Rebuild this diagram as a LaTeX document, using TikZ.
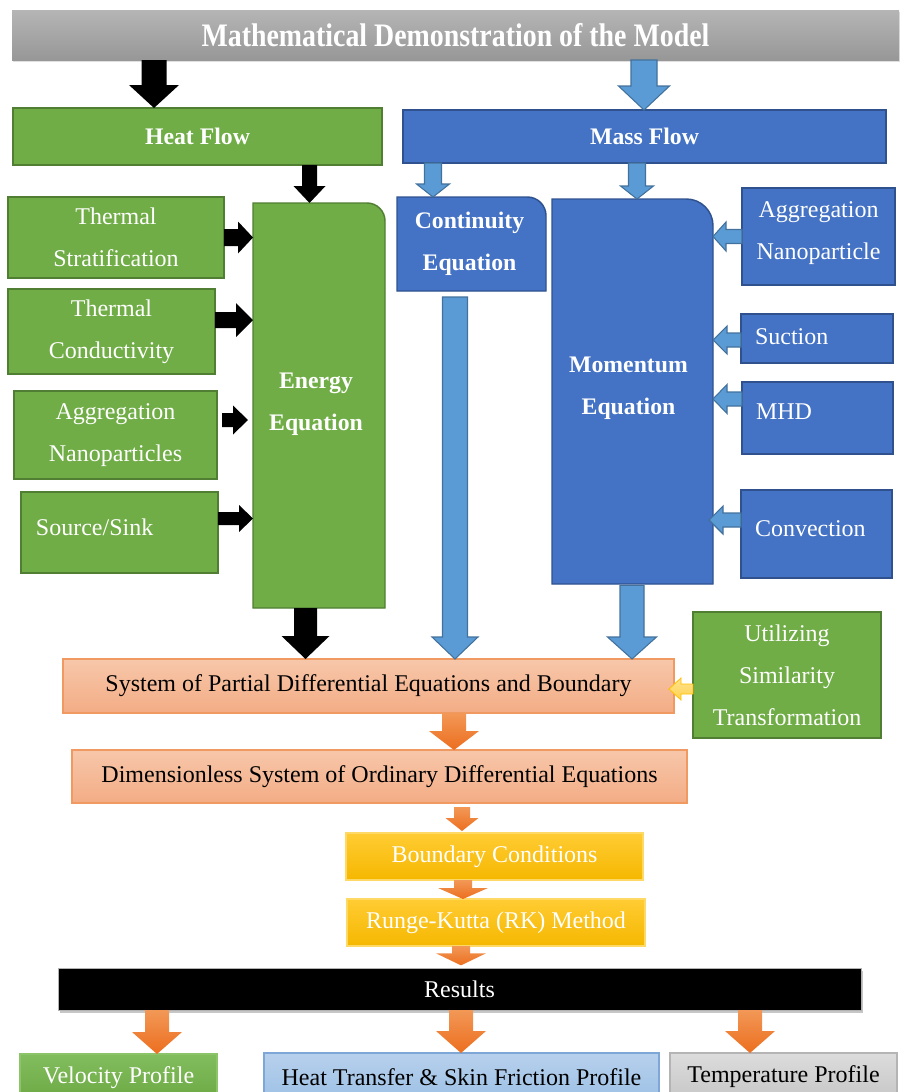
\documentclass[tikz,border=0pt]{standalone}
\usepackage{fontspec}
\setmainfont{Liberation Serif}
\newfontfamily\hdfont[FakeStretch=0.85]{Liberation Serif}
\usetikzlibrary{calc,shadows}
\pgfdeclarelayer{bg}\pgfsetlayers{bg,main}
\definecolor{gfill}{HTML}{70AD47}
\definecolor{gline}{HTML}{507E32}
\definecolor{bfill}{HTML}{4472C4}
\definecolor{bline}{HTML}{2F528F}
\definecolor{afill}{HTML}{5B9BD5}
\definecolor{aline}{HTML}{41719C}
\definecolor{salT}{HTML}{F7C7AA}
\definecolor{salB}{HTML}{F3AC85}
\definecolor{salL}{HTML}{F09A62}
\definecolor{yelT}{HTML}{FFCC33}
\definecolor{yelB}{HTML}{F5B700}
\definecolor{yelL}{HTML}{FFD966}
\definecolor{orT}{HTML}{F29857}
\definecolor{orB}{HTML}{EC6E1E}
\definecolor{hdT}{HTML}{B5B5B5}
\definecolor{hdB}{HTML}{979797}
\definecolor{ltbT}{HTML}{B7D0EC}
\definecolor{ltbB}{HTML}{9DC1E6}
\definecolor{ltbL}{HTML}{7EA6D6}
\definecolor{gryT}{HTML}{DCDCDC}
\definecolor{gryB}{HTML}{C6C6C6}
\definecolor{gryL}{HTML}{B4B4B4}
\definecolor{vgT}{HTML}{82BD5E}
\definecolor{vgB}{HTML}{6CA943}
\definecolor{vgL}{HTML}{8CC46A}
\definecolor{smT}{HTML}{FFE28F}
\definecolor{smB}{HTML}{FFD24D}
\definecolor{smL}{HTML}{FFC000}
\tikzset{
  base/.style={inner sep=0pt, outer sep=0pt, align=center,
    font=\fontsize{18}{31.5}\selectfont},
  bold/.style={font=\fontsize{17.8}{31.5}\selectfont\bfseries},
  gbox/.style={base, fill=gfill, draw=gline, line width=1.1pt, text=white},
  bbox/.style={base, fill=bfill, draw=bline, line width=1.1pt, text=white},
  plain/.style={base, text=white},
  gshape/.style={fill=gfill, draw=gline, line width=1.1pt},
  bshape/.style={fill=bfill, draw=bline, line width=1.1pt},
  salbox/.style={base, top color=salT, bottom color=salB, draw=salL, line width=1pt, text=black},
  yelbox/.style={base, top color=yelT, bottom color=yelB, draw=yelL, line width=1pt, text=white},
  resbox/.style={base, fill=black, draw=gray!60, line width=0.6pt, text=white,
    drop shadow={opacity=0.45, shadow xshift=1.5pt, shadow yshift=-2pt}},
  hdrbox/.style={base, top color=hdT, bottom color=hdB, draw=none, text=white,
    font=\hdfont\bfseries\fontsize{24.6}{30}\selectfont,
    drop shadow={opacity=0.25, shadow xshift=1pt, shadow yshift=-1.5pt}},
  velbox/.style={base, top color=vgT, bottom color=vgB, draw=vgL, line width=1pt, text=white},
  htbox/.style={base, top color=ltbT, bottom color=ltbB, draw=ltbL, line width=1pt, text=black},
  tpbox/.style={base, top color=gryT, bottom color=gryB, draw=gryL, line width=1pt, text=black},
  blk/.style={fill=black},
  bla/.style={fill=afill, draw=aline, line width=0.8pt},
  ora/.style={top color=orT, bottom color=orB, draw=none},
  yla/.style={top color=smT, bottom color=smB, draw=smL, line width=0.6pt},
}
% box from corners (px)
\newcommand\bx[7][]{\node[#1, minimum width={(#5-#3)*0.75pt}, minimum height={(#6-#4)*0.75pt}] (#2) at ({(#3+#5)/2},{(#4+#6)/2}) {#7};}
% block arrows: style, from, to, shaft half, head half, head length (px)
\newcommand\dnarr[6]{\path[#1] let \p1=(#2), \p2=(#3) in
  (\x1-#4*0.75pt,\y1) -- (\x1+#4*0.75pt,\y1) -- (\x1+#4*0.75pt,\y2+#6*0.75pt)
  -- (\x1+#5*0.75pt,\y2+#6*0.75pt) -- (\x1,\y2) -- (\x1-#5*0.75pt,\y2+#6*0.75pt)
  -- (\x1-#4*0.75pt,\y2+#6*0.75pt) -- cycle;}
\newcommand\rtarr[6]{\path[#1] let \p1=(#2), \p2=(#3) in
  (\x1,\y1+#4*0.75pt) -- (\x2-#6*0.75pt,\y1+#4*0.75pt) -- (\x2-#6*0.75pt,\y1+#5*0.75pt)
  -- (\x2,\y1) -- (\x2-#6*0.75pt,\y1-#5*0.75pt) -- (\x2-#6*0.75pt,\y1-#4*0.75pt)
  -- (\x1,\y1-#4*0.75pt) -- cycle;}
\newcommand\lfarr[6]{\path[#1] let \p1=(#2), \p2=(#3) in
  (\x1,\y1+#4*0.75pt) -- (\x2+#6*0.75pt,\y1+#4*0.75pt) -- (\x2+#6*0.75pt,\y1+#5*0.75pt)
  -- (\x2,\y1) -- (\x2+#6*0.75pt,\y1-#5*0.75pt) -- (\x2+#6*0.75pt,\y1-#4*0.75pt)
  -- (\x1,\y1-#4*0.75pt) -- cycle;}
\begin{document}
\begin{tikzpicture}[x=0.75pt,y=-0.75pt]
\useasboundingbox (0,0) rectangle (900,1092);
% column / level coordinates
\coordinate (xH) at (154,0);
\coordinate (xM) at (644,0);
\coordinate (xE) at (309.5,0);
\coordinate (xC) at (433,0);
\coordinate (xMo) at (637,0);
\coordinate (xE2) at (305.5,0);
\coordinate (xC2) at (455,0);
\coordinate (xMo2) at (632,0);
\coordinate (xP) at (454,0);
\coordinate (xD) at (462,0);
\coordinate (xB) at (463,0);
\coordinate (xR) at (461,0);
\coordinate (xV) at (157,0);
\coordinate (xTe) at (750,0);
\coordinate (yTC) at (0,320);
\coordinate (yAN) at (0,420);
\coordinate (ySS) at (0,518.5);
\coordinate (ySU) at (0,340);
\coordinate (yMH) at (0,399);
\coordinate (yCV) at (0,520);
\coordinate (yUT) at (0,689);

% boxes
\bx[hdrbox]{hdr}{12}{10}{899}{60}{Mathematical Demonstration of the Model}
\bx[gbox,bold]{heat}{13}{108}{382}{165}{Heat Flow}
\bx[bbox,bold]{mass}{403}{110}{886}{163}{Mass Flow}
\bx[plain]{en}{253}{203}{385}{608}{}
\bx[plain]{co}{397}{197}{546}{291}{}
\bx[plain]{mo}{552}{199}{713}{584}{}
\begin{pgfonlayer}{bg}
\path[gshape] (en.south west) -- (en.north west) -- ([xshift=-13.5pt]en.north east)
  arc[start angle=90, end angle=0, radius=13.5pt] -- (en.south east) -- cycle;
\path[bshape] (co.south west) -- (co.north west) -- ([xshift=-14pt]co.north east)
  arc[start angle=90, end angle=0, radius=14pt] -- (co.south east) -- cycle;
\path[bshape] (mo.south west) -- (mo.north west) -- ([xshift=-20pt]mo.north east)
  arc[start angle=90, end angle=0, radius=20pt] -- (mo.south east) -- cycle;
\end{pgfonlayer}
\node[plain,bold] (entext) at ($(en.center)+(-2.25pt,1pt)$) {Energy\\Equation};
\node[plain,bold] (cotext) at ($(co.center)+(-1.5pt,0)$) {Continuity\\Equation};
\node[plain,bold] (motext) at ($(mo.center)+(-3pt,2.25pt)$) {Momentum\\Equation};
\bx[gbox]{ts}{8}{197}{224}{278}{Thermal\\Stratification}
\bx[gbox]{tc}{8}{289}{215}{374}{Thermal\\Conductivity}
\bx[gbox]{an}{14}{391}{217}{479}{Aggregation\\Nanoparticles}
\bx[gbox]{ss}{21}{492}{218}{573}{}
\node[plain, anchor=base west] (sstext) at (36,535) {Source/Sink};
\bx[bbox]{ar}{742}{188}{895}{285}{}
\node[plain] (artext) at ($(ar.center)+(0,2.25pt)$) {Aggregation\\Nanoparticle};
\bx[bbox]{su}{741}{314}{893}{363}{}
\node[plain, anchor=base west] (sutext) at (755,344) {Suction};
\bx[bbox]{mh}{742}{382}{893}{454}{}
\node[plain, anchor=base west] (mhtext) at (756,419) {MHD};
\bx[bbox]{cv}{741}{490}{892}{578}{}
\node[plain, anchor=base west] (cvtext) at (755,536) {Convection};
\bx[salbox]{pde}{63}{659}{674}{713}{System of Partial Differential Equations and Boundary}
\bx[gbox]{ut}{693}{612}{881}{738}{Utilizing\\Similarity\\Transformation}
\bx[salbox]{dim}{72}{750}{687}{803}{Dimensionless System of Ordinary Differential Equations}
\bx[yelbox]{bc}{346}{833}{643}{880}{Boundary Conditions}
\bx[yelbox]{rk}{347}{899}{645}{946}{Runge-Kutta (RK) Method}
\bx[resbox]{res}{58}{968}{861}{1010}{Results}
\bx[velbox]{vel}{20}{1054}{217}{1101}{Velocity Profile}
\bx[htbox]{ht}{264}{1053}{659}{1101}{Heat Transfer \& Skin Friction Profile}
\bx[tpbox]{tp}{670}{1053}{897}{1101}{Temperature Profile}

% arrows
\dnarr{blk}{hdr.south -| xH}{heat.north -| xH}{12.5}{25}{23}
\dnarr{bla}{hdr.south -| xM}{mass.north -| xM}{13}{25.5}{24}
\dnarr{blk}{heat.south -| xE}{en.north -| xE}{7.5}{16}{17}
\dnarr{bla}{mass.south -| xC}{co.north -| xC}{8.5}{16.5}{13}
\dnarr{bla}{mass.south -| xMo}{mo.north -| xMo}{8.5}{16.5}{13}
\rtarr{blk}{ts.east}{en.west |- ts.east}{8.5}{16}{15}
\rtarr{blk}{tc.east |- yTC}{en.west |- yTC}{8}{17}{17}
\rtarr{blk}{$(an.east |- yAN)+(3.75pt,0)$}{$(en.west |- yAN)+(-3.75pt,0)$}{7}{14.5}{15}
\rtarr{blk}{ss.east |- ySS}{en.west |- ySS}{6.5}{13.5}{14}
\lfarr{bla}{ar.west}{mo.east |- ar.west}{7}{14.5}{13}
\lfarr{bla}{su.west |- ySU}{mo.east |- ySU}{7}{14}{14}
\lfarr{bla}{mh.west |- yMH}{mo.east |- yMH}{7}{14.5}{14}
\lfarr{bla}{cv.west |- yCV}{$(mo.east |- yCV)+(-3pt,0)$}{7}{14}{14}
\dnarr{blk}{en.south -| xE2}{pde.north -| xE2}{11.5}{24}{23}
\dnarr{bla}{$(co.south -| xC2)+(0,-4.5pt)$}{pde.north -| xC2}{12.5}{23}{22}
\dnarr{bla}{$(mo.south -| xMo2)+(0,-1pt)$}{pde.north -| xMo2}{12}{24.5}{22}
\lfarr{yla}{ut.west |- yUT}{$(pde.east |- yUT)+(-3.75pt,0)$}{5}{11}{12}
\dnarr{ora}{pde.south -| xP}{dim.north -| xP}{12}{25}{19}
\dnarr{ora}{$(dim.south -| xD)+(0,-3pt)$}{$(bc.north -| xD)+(0,1.5pt)$}{8}{16.5}{13}
\dnarr{ora}{bc.south -| xB}{rk.north -| xB}{9}{25}{11}
\dnarr{ora}{rk.south -| xR}{$(res.north -| xR)+(0,2pt)$}{9}{25}{12}
\dnarr{ora}{res.south -| xV}{vel.north -| xV}{12}{25}{22}
\dnarr{ora}{res.south -| xR}{ht.north -| xR}{12}{25}{22}
\dnarr{ora}{res.south -| xTe}{tp.north -| xTe}{12}{25}{22}
\end{tikzpicture}
\end{document}
